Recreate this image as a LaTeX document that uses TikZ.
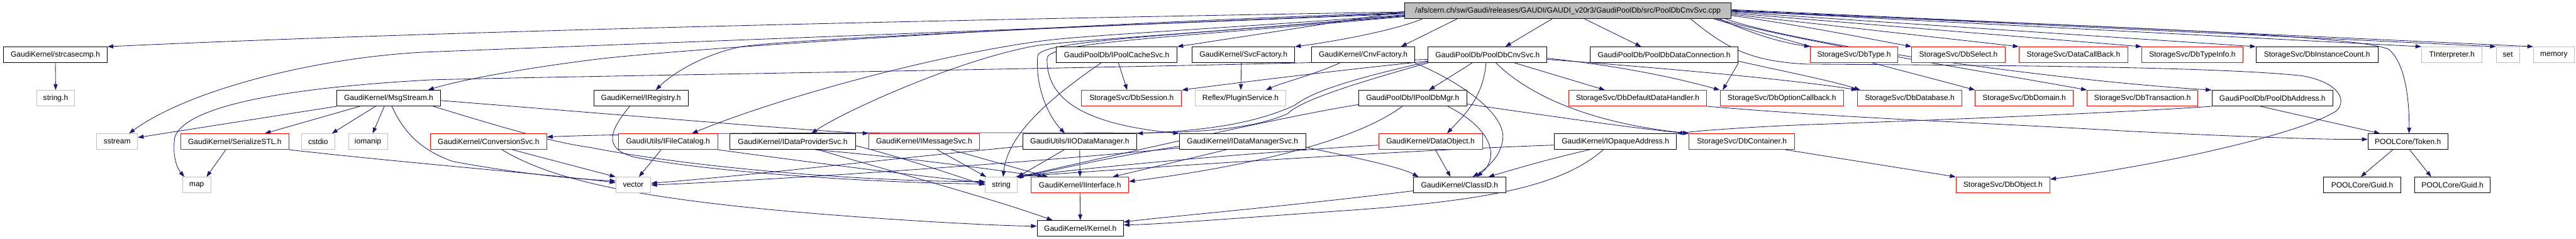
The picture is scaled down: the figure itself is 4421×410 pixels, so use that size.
\documentclass[tikz,border=0pt]{standalone}
\usepackage{fontspec}
\setmainfont{Liberation Sans}
\usetikzlibrary{arrows.meta}
\definecolor{edgec}{HTML}{191970}
\definecolor{grayb}{HTML}{BFBFBF}
\pgfdeclarelayer{back}
\pgfdeclarelayer{bg}
\pgfsetlayers{back,bg,main}
\tikzset{
  nb/.style={draw=black, fill=white, line width=1pt, minimum height=27pt, inner sep=0pt, font=\fontsize{13}{15}\selectfont},
  nr/.style={nb, draw=red},
  ng/.style={nb, draw=grayb},
  nm/.style={nb, fill=grayb},
  e/.style={draw=edgec, line width=0.9pt, -{Triangle[length=10pt,width=7pt]}}
}
\begin{document}
\begin{tikzpicture}[x=1pt, y=-1pt]
\useasboundingbox (0,0) rectangle (4421,410);
\begin{pgfonlayer}{back}
\fill[white] (0,0) rectangle (4421,410);
\end{pgfonlayer}
% row 0
\node[nm, minimum width=560pt] (src) at (2691,18.5) {/afs/cern.ch/sw/Gaudi/releases/GAUDI/GAUDI\_v20r3/GaudiPoolDb/src/PoolDbCnvSvc.cpp};
% row 1
\node[nb, minimum width=178pt] (strc) at (95,94) {GaudiKernel/strcasecmp.h};
\node[nb, minimum width=207pt] (ipcs) at (1916.5,94) {GaudiPoolDb/IPoolCacheSvc.h};
\node[nb, minimum width=176pt] (svcf) at (2134,94) {GaudiKernel/SvcFactory.h};
\node[nb, minimum width=177pt] (cnvf) at (2339.5,94) {GaudiKernel/CnvFactory.h};
\node[nb, minimum width=204pt] (pcs) at (2553,94) {GaudiPoolDb/PoolDbCnvSvc.h};
\node[nb, minimum width=254pt] (pdc) at (2856,94) {GaudiPoolDb/PoolDbDataConnection.h};
\node[nr, minimum width=150pt] (dbtype) at (3182,94) {StorageSvc/DbType.h};
\node[nr, minimum width=160pt] (dbsel) at (3361,94) {StorageSvc/DbSelect.h};
\node[nr, minimum width=187pt] (dcb) at (3558.5,94) {StorageSvc/DataCallBack.h};
\node[nr, minimum width=173pt] (dbti) at (3762.5,94) {StorageSvc/DbTypeInfo.h};
\node[nb, minimum width=209pt] (dbic) at (3976.5,94) {StorageSvc/DbInstanceCount.h};
\node[ng, minimum width=104pt] (tint) at (4208,94) {TInterpreter.h};
\node[ng, minimum width=40pt] (setn) at (4304,94) {set};
\node[ng, minimum width=70pt] (memory) at (4383,94) {memory};
% row 2
\node[ng, minimum width=65pt] (stringh) at (95.5,168.5) {string.h};
\node[nb, minimum width=178pt] (msg) at (667,168.5) {GaudiKernel/MsgStream.h};
\node[nb, minimum width=162pt] (ireg) at (1100,168.5) {GaudiKernel/IRegistry.h};
\node[nr, minimum width=172pt] (dbsess) at (1942,168.5) {StorageSvc/DbSession.h};
\node[ng, minimum width=156pt] (reflex) at (2129,168.5) {Reflex/PluginService.h};
\node[nb, minimum width=185pt] (ipdm) at (2424.5,168.5) {GaudiPoolDb/IPoolDbMgr.h};
\node[nr, minimum width=237pt] (ddh) at (2810.5,168.5) {StorageSvc/DbDefaultDataHandler.h};
\node[nr, minimum width=212pt] (doc) at (3058,168.5) {StorageSvc/DbOptionCallback.h};
\node[nr, minimum width=179pt] (dbdb) at (3277.5,168.5) {StorageSvc/DbDatabase.h};
\node[nr, minimum width=168pt] (dbdom) at (3474,168.5) {StorageSvc/DbDomain.h};
\node[nr, minimum width=190pt] (dbtr) at (3677,168.5) {StorageSvc/DbTransaction.h};
\node[nb, minimum width=208pt] (pda) at (3900,168.5) {GaudiPoolDb/PoolDbAddress.h};
% row 3
\node[ng, minimum width=70pt] (sstream) at (201,243) {sstream};
\node[nr, minimum width=186pt] (ser) at (403,243) {GaudiKernel/SerializeSTL.h};
\node[ng, minimum width=58pt] (cstdio) at (546,243) {cstdio};
\node[ng, minimum width=67pt] (iomanip) at (631.5,243) {iomanip};
\node[nr, minimum width=199pt] (conv) at (838.5,243) {GaudiKernel/ConversionSvc.h};
\node[nr, minimum width=171pt] (ifc) at (1146.5,243) {GaudiUtils/IFileCatalog.h};
\node[nb, minimum width=215pt] (idps) at (1360.5,243) {GaudiKernel/IDataProviderSvc.h};
\node[nr, minimum width=190pt] (ims) at (1586,243) {GaudiKernel/IMessageSvc.h};
\node[nb, minimum width=196pt] (iiod) at (1853,243) {GaudiUtils/IIODataManager.h};
\node[nb, minimum width=217pt] (idms) at (2132.5,243) {GaudiKernel/IDataManagerSvc.h};
\node[nr, minimum width=178pt] (dobj) at (2455,243) {GaudiKernel/DataObject.h};
\node[nb, minimum width=209pt] (ioa) at (2772.5,243) {GaudiKernel/IOpaqueAddress.h};
\node[nr, minimum width=181pt] (dbc) at (2989.5,243) {StorageSvc/DbContainer.h};
\node[nb, minimum width=137pt] (token) at (4132.5,243) {POOLCore/Token.h};
% row 4
\node[ng, minimum width=49pt] (map) at (337.5,317.5) {map};
\node[ng, minimum width=60pt] (vector) at (1087,317.5) {vector};
\node[ng, minimum width=55pt] (string) at (1718.5,317.5) {string};
\node[nr, minimum width=167pt] (iint) at (1853.5,317.5) {GaudiKernel/IInterface.h};
\node[nb, minimum width=158pt] (classid) at (2505,317.5) {GaudiKernel/ClassID.h};
\node[nr, minimum width=161pt] (dbobj) at (3437.5,317.5) {StorageSvc/DbObject.h};
\node[nb, minimum width=132pt] (guid1) at (4054,317.5) {POOLCore/Guid.h};
\node[nb, minimum width=130pt] (guid2) at (4209,317.5) {POOLCore/Guid.h};
% row 5
\node[nb, minimum width=148pt] (kernel) at (1854,392) {GaudiKernel/Kernel.h};

\begin{pgfonlayer}{bg}
% source file, to the left
\draw[e] ([yshift=-16pt]src.north west) .. controls (1500,36) and (700,56) .. (strc.north east);
\draw[e] ([yshift=-19pt]src.north west) .. controls (1900,45) and (1100,75) .. (740,89) .. controls (560,96) and (330,150) .. ([xshift=56pt]sstream.north west);
\draw[e] ([yshift=-17pt]src.north west) .. controls (1800,42) and (1150,85) .. (1013,103) .. controls (880,120) and (780,140) .. ([xshift=157pt]msg.north west);
\draw[e] ([yshift=-18pt]src.north west) .. controls (1800,48) and (1350,68) .. (1273,80) .. controls (1200,95) and (1150,130) .. ([xshift=107pt]ireg.north west);
\draw[e] ([yshift=-21pt]src.north west) .. controls (2050,52) and (1870,60) .. (1790,70) .. controls (1600,95) and (1330,170) .. ([xshift=127pt]ifc.north west);
\draw[e] ([yshift=-22pt]src.north west) .. controls (2050,58) and (1860,68) .. (1781,78) .. controls (1650,100) and (1450,190) .. ([xshift=140pt]idps.north west);
\draw[e] ([yshift=-15pt]src.north west) .. controls (2250,45) and (2100,68) .. (ipcs.north east);
\draw[e] ([xshift=30pt]src.south west) .. controls (2400,50) and (2300,70) .. (svcf.north east);
\draw[e] ([xshift=90pt]src.south west) -- ([xshift=154pt]cnvf.north west);
\draw[e] ([xshift=253pt]src.south west) -- ([xshift=133pt]pcs.north west);
\draw[e] ([xshift=309pt]src.south west) -- ([xshift=88pt]pdc.north west);
\draw[e] ([yshift=-23pt]src.north west) .. controls (2000,62) and (1790,70) .. (1781,95) .. controls (1776,150) and (1800,200) .. ([xshift=73pt]iiod.north west);
\draw[e] ([yshift=-24pt]src.north west) .. controls (2000,66) and (1800,72) .. (1797,100) .. controls (1795,180) and (1880,215) .. (idms.north west);
% source file, to the right
\draw[e] ([xshift=-20pt]src.south east) .. controls (3000,55) and (3050,72) .. (dbtype.north west);
\draw[e] ([yshift=-22pt]src.north east) .. controls (3100,45) and (3200,65) .. (dbsel.north west);
\draw[e] ([yshift=-20pt]src.north east) -- (dcb.north west);
\draw[e] ([yshift=-18pt]src.north east) -- (dbti.north west);
\draw[e] ([yshift=-16pt]src.north east) -- (dbic.north west);
\draw[e] ([yshift=-14pt]src.north east) -- (tint.north west);
\draw[e] ([yshift=-13pt]src.north east) -- (setn.north west);
\draw[e] ([yshift=-12pt]src.north east) -- (memory.north west);
\draw[e] ([yshift=-15pt]src.north east) .. controls (3600,45) and (4050,60) .. (4100,85) .. controls (4130,110) and (4135,180) .. ([xshift=71pt]token.north west);
\draw[e] ([xshift=-70pt]src.south east) .. controls (2960,80) and (3000,105) .. (3100,110) .. controls (3400,112) and (3800,114) .. (3950,130) .. controls (4010,140) and (4030,170) .. (4010,190) .. controls (3950,230) and (3700,285) .. ([yshift=-4pt]dbobj.north east);
\draw[e] ([xshift=-10pt]src.south east) .. controls (3100,80) and (3550,140) .. (pda.north west);
\draw[e] ([xshift=-30pt]src.south east) .. controls (3100,80) and (3300,130) .. (dbdom.north west);
\draw[e] ([xshift=-25pt]src.south east) .. controls (3100,75) and (3450,130) .. (dbtr.north west);
% PoolDbCnvSvc.h
\draw[e] ([xshift=76pt]pcs.south west) -- ([xshift=121pt]ipdm.north west);
\draw[e] ([xshift=100pt]pcs.south west) .. controls (2545,170) and (2510,200) .. ([xshift=118pt]dobj.north west);
\draw[e] ([xshift=117pt]pcs.south west) .. controls (2620,160) and (2720,210) .. (dbc.north west);
\draw[e] ([xshift=149pt]pcs.south west) -- ([xshift=63pt]ddh.north west);
\draw[e] ([yshift=-20pt]pcs.north east) .. controls (2800,115) and (2900,140) .. (doc.north west);
\draw[e] ([yshift=-22pt]pcs.north east) .. controls (2900,120) and (3100,140) .. (dbdb.north west);
\draw[e] ([yshift=-22pt]pcs.north west) .. controls (2000,116) and (1000,130) .. (740,137) .. controls (500,150) and (320,180) .. (300,235) .. controls (295,270) and (305,290) .. ([xshift=4pt]map.north west);
\draw[e] ([yshift=-25pt]pcs.north west) .. controls (2300,120) and (2100,145) .. (dbsess.north east);
\draw[e] ([yshift=-26pt]pcs.north west) .. controls (2300,140) and (2250,160) .. (2223,180) .. controls (2150,215) and (2050,225) .. (iiod.north east);
\draw[e] (pcs.south west) .. controls (2300,150) and (2230,175) .. (2210,195) .. controls (2150,222) and (2050,228) .. (1951,228) .. controls (1500,227) and (1100,228) .. ([yshift=-6pt]conv.north east);
% PoolDbDataConnection.h
\draw[e] (pdc.south east) -- ([xshift=5pt]doc.north west);
\draw[e] ([yshift=-25pt]pdc.north east) .. controls (3050,120) and (3150,140) .. ([xshift=5pt]dbdb.north west);
% IPoolDbMgr.h
\draw[e] ([yshift=-24pt]ipdm.north east) .. controls (2700,205) and (2820,222) .. (dbc.north west);
\draw[e] ([xshift=153pt]ipdm.south west) .. controls (2560,220) and (2575,270) .. ([xshift=109pt]classid.north west);
\draw[e] ([xshift=75pt]ipdm.south west) .. controls (2330,240) and (2150,285) .. ([yshift=-8pt]iint.north east);
\draw[e] ([yshift=-25pt]ipdm.north west) .. controls (2200,200) and (1900,270) .. (string.north east);
% DataObject.h, IOpaqueAddress.h, ClassID.h
\draw[e] ([xshift=98pt]dobj.south west) -- ([xshift=64pt]classid.north west);
\draw[e] ([yshift=-20pt]dobj.north west) .. controls (2100,265) and (1850,290) .. ([xshift=-2pt]string.north east);
\draw[e] ([xshift=60pt]ioa.south west) .. controls (2650,275) and (2600,290) .. ([xshift=129pt]classid.north west);
\draw[e] ([xshift=84pt]ioa.south west) .. controls (2680,320) and (2550,345) .. (2300,362) .. controls (2100,376) and (1990,385) .. ([yshift=-8pt]kernel.north east);
\draw[e] ([yshift=-20pt]ioa.north west) .. controls (2400,258) and (1900,292) .. ([xshift=-4pt]string.north east);
\draw[e] ([yshift=-24pt]classid.north west) .. controls (2200,355) and (2000,372) .. ([yshift=-3pt]kernel.north east);
% factories, cache
\draw[e] ([xshift=49pt]cnvf.south west) .. controls (2250,130) and (2200,142) .. ([xshift=122pt]reflex.north west);
\draw[e] (cnvf.south east) .. controls (2520,147) and (2585,200) .. (2579,240) .. controls (2575,270) and (2550,290) .. ([xshift=102pt]classid.north west);
\draw[e] ([xshift=85pt]svcf.south west) -- ([xshift=79pt]reflex.north west);
\draw[e] ([xshift=107pt]ipcs.south west) -- ([xshift=79pt]dbsess.north west);
\draw[e] ([xshift=77pt]ipcs.south west) .. controls (1800,170) and (1730,230) .. ([xshift=31pt]string.north west);
\draw[e] (strc.south) -- (stringh.north);
% MsgStream.h
\draw[e] (msg.south west) -- ([yshift=-7pt]sstream.north east);
\draw[e] ([xshift=40pt]msg.south west) -- ([xshift=145pt]ser.north west);
\draw[e] ([xshift=67pt]msg.south west) -- ([xshift=53pt]cstdio.north west);
\draw[e] ([xshift=82pt]msg.south west) -- ([xshift=42pt]iomanip.north west);
\draw[e] ([yshift=-18pt]msg.north east) .. controls (1100,200) and (1400,225) .. (ims.north west);
\draw[e] ([xshift=166pt]msg.south west) .. controls (850,215) and (950,245) .. (1013,253) .. controls (1200,290) and (1500,312) .. ([yshift=-8pt]string.north west);
\draw[e] ([xshift=95pt]msg.south west) .. controls (690,220) and (715,255) .. (777,277) .. controls (900,300) and (1000,308) .. ([yshift=-7pt]vector.north west);
% SerializeSTL.h, ConversionSvc.h, IFileCatalog.h, IRegistry.h
\draw[e] ([xshift=78pt]ser.south west) -- ([xshift=42pt]map.north west);
\draw[e] (ser.south east) .. controls (700,280) and (950,300) .. ([yshift=-10pt]vector.north west);
\draw[e] ([xshift=141pt]conv.south west) -- (vector.north west);
\draw[e] ([xshift=123pt]conv.south west) .. controls (950,310) and (1100,345) .. (1470,372) .. controls (1650,385) and (1750,388) .. ([yshift=-10pt]kernel.north west);
\draw[e] ([xshift=74pt]ifc.south west) -- ([xshift=40pt]vector.north west);
\draw[e] (ifc.south east) .. controls (1400,280) and (1600,305) .. ([yshift=-10pt]string.north west);
\draw[e] ([xshift=62pt]ireg.south west) .. controls (1050,220) and (1030,255) .. (1090,270) .. controls (1250,300) and (1550,315) .. ([yshift=-12pt]string.north west);
% IDataProviderSvc.h, IMessageSvc.h, IIODataManager.h, IDataManagerSvc.h
\draw[e] ([yshift=-21pt]idps.north east) .. controls (1550,270) and (1650,305) .. ([yshift=-14pt]string.north west);
\draw[e] ([xshift=147pt]idps.south west) .. controls (1550,270) and (1700,290) .. ([xshift=21pt]iint.north west);
\draw[e] ([xshift=152pt]idps.south west) .. controls (1550,300) and (1700,340) .. ([xshift=27pt]kernel.north west);
\draw[e] ([xshift=118pt]ims.south west) -- ([xshift=2pt]string.north west);
\draw[e] ([xshift=142pt]ims.south west) -- ([xshift=29pt]iint.north west);
\draw[e] (iiod.south) -- (iint.north);
\draw[e] ([xshift=72pt]iiod.south west) -- (string.north east);
\draw[e] ([yshift=-22pt]iiod.north west) .. controls (1500,275) and (1300,300) .. ([yshift=-11pt]vector.north east);
\draw[e] ([xshift=81pt]idms.south west) -- ([xshift=140pt]iint.north west);
\draw[e] ([yshift=-22pt]idms.north west) .. controls (1900,270) and (1800,295) .. ([xshift=-1pt]string.north east);
\draw[e] ([yshift=-24pt]idms.north east) .. controls (2300,265) and (2400,285) .. ([xshift=9pt]classid.north west);
\draw[e] ([yshift=-25pt]idms.north west) .. controls (1700,285) and (1300,310) .. ([yshift=-14pt]vector.north east);
\draw[e] (iint.south) -- (kernel.north);
% right part
\draw[e] ([xshift=84pt]pda.south west) -- ([xshift=21pt]token.north west);
\draw[e] (pda.south west) .. controls (3650,193) and (3300,207) .. (3100,214) .. controls (3000,218) and (2920,224) .. (ioa.north east);
\draw[e] (ddh.south east) .. controls (3200,205) and (3400,210) .. (3650,225) .. controls (3850,235) and (4000,240) .. ([yshift=-10pt]token.north west);
\draw[e] ([xshift=166pt]dbc.south west) -- (dbobj.north west);
\draw[e] ([xshift=43pt]token.south west) -- ([xshift=64pt]guid1.north west);
\draw[e] ([xshift=72pt]token.south west) -- ([xshift=29pt]guid2.north west);
\end{pgfonlayer}
\end{tikzpicture}
\end{document}
